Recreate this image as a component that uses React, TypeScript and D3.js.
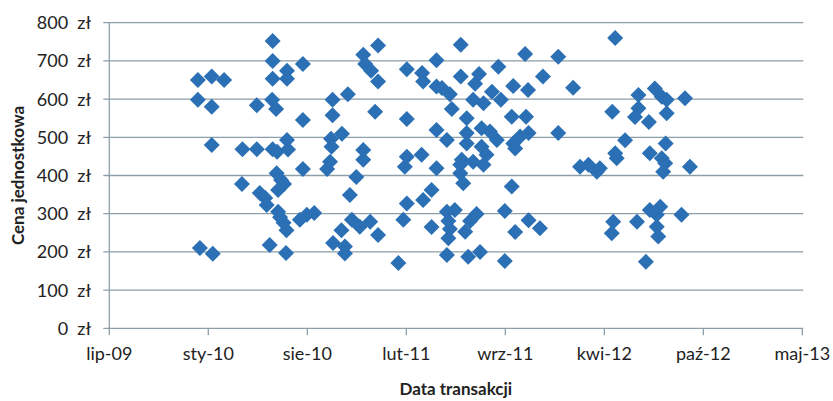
import React from "react";
import * as d3 from "d3";

// Excel date serials of transactions and unit prices (zł)
const dates: number[] = [
  40179, 40207, 40232, 40179, 40207, 40207, 40183, 40209,
  40269, 40268, 40298, 40298, 40330, 40330, 40330, 40329, 40337, 40359, 40359, 40330,
  40339, 40359, 40361, 40391, 40391, 40391, 40338, 40347, 40353, 40341, 40304, 40315,
  40318, 40341, 40345, 40352, 40358, 40385, 40399, 40414, 40324, 40357,
  40451, 40451, 40482, 40513, 40517, 40529, 40543, 40543, 40537, 40448, 40470, 40449,
  40446, 40440, 40513, 40513, 40499, 40486, 40490, 40506, 40527, 40543, 40469, 40452,
  40476, 40476,
  40601, 40632, 40634, 40661, 40661, 40672, 40688, 40601, 40661, 40682, 40601, 40597,
  40631, 40661, 40601, 40594, 40634, 40651, 40651, 40584, 40682, 40685, 40688, 40685,
  40682, 40698, 40709, 40715, 40709, 40712, 40722, 40722, 40722, 40692, 40710, 40710,
  40735, 40739, 40747, 40756, 40773, 40786, 40791, 40752, 40769, 40783, 40735, 40752,
  40762, 40756, 40816, 40820, 40830, 40847, 40813, 40842, 40816, 40846, 40840, 40876,
  40907, 40907, 40937, 40813, 40799, 40729, 40742, 40719, 40820, 40847, 40870, 40725,
  40749, 40799,
  40951, 40968, 40985, 40991, 41022, 41016, 41069, 41069, 41062, 41090, 41102, 41116,
  41126, 41126, 41163, 41042, 41022, 41025, 41092, 41116, 41124, 41119, 41123, 41173,
  41092, 41113, 41106, 41066, 41018, 41015, 41106, 41109, 41156, 41084,
];
const prices: number[] = [
  650, 659, 650, 598, 580, 480, 210, 195,
  469, 378, 584, 469, 752, 700, 653, 598, 574, 674, 653, 469,
  462, 493, 468, 692, 545, 417, 406, 388, 378, 362, 354, 341,
  323, 305, 291, 276, 257, 284, 297, 302, 218, 197,
  598, 558, 613, 716, 692, 674, 740, 646, 567, 496, 509, 475,
  436, 417, 467, 441, 396, 349, 284, 266, 279, 244, 257, 223,
  214, 196,
  678, 668, 646, 702, 633, 629, 613, 548, 519, 493, 449, 423,
  454, 419, 327, 284, 336, 362, 265, 171, 305, 281, 260, 236,
  192, 310, 406, 380, 428, 441, 484, 511, 550, 574, 742, 659,
  598, 640, 666, 589, 619, 685, 598, 524, 515, 493, 436, 475,
  454, 428, 484, 471, 502, 511, 554, 554, 634, 624, 718, 659,
  711, 511, 630, 371, 307, 281, 299, 253, 252, 283, 262, 187,
  200, 176,
  423, 428, 410, 419, 760, 567, 611, 576, 553, 540, 628, 606,
  598, 563, 602, 492, 458, 445, 458, 445, 484, 410, 432, 423,
  310, 318, 297, 279, 279, 249, 266, 240, 297, 174,
];

const xTickSerials: number[] = [40000, 40200, 40400, 40600, 40800, 41000, 41200, 41400];
const xTickLabels: string[] = ["lip-09", "sty-10", "sie-10", "lut-11", "wrz-11", "kwi-12", "paź-12", "maj-13"];
const yTicks: number[] = [0, 100, 200, 300, 400, 500, 600, 700, 800];

const EXCEL_EPOCH = Date.UTC(1899, 11, 30);
const toDate = (s: number) => new Date(EXCEL_EPOCH + s * 86400000);

const W = 833;
const H = 401;
const FONT = "Lato, 'Open Sans', sans-serif";
const TEXT = "#222222";
const GRID = "#8d9ea9";
const MARK = "#2b6fb4";

export default function App() {
  React.useEffect(() => {
    document.body.style.margin = "0";
  }, []);

  const x = d3
    .scaleUtc()
    .domain([toDate(40000), toDate(41400)])
    .range([109.3, 802.3]);
  const y = d3.scaleLinear().domain([0, 800]).range([328.3, 22.7]);

  const diamond = "M0,-8L8,0L0,8L-8,0Z";
  const [x0, x1] = x.range();

  return (
    <svg width={W} height={H} style={{ display: "block", background: "#fff" }} fontFamily={FONT}>
      {yTicks.map((t) => (
        <line
          key={"g" + t}
          x1={x0 - 6}
          x2={x1 + 1}
          y1={y(t)}
          y2={y(t)}
          stroke={GRID}
          strokeWidth={1.3}
        />
      ))}
      <line x1={x0} x2={x0} y1={y(800)} y2={y(0)} stroke={GRID} strokeWidth={1.3} />
      {xTickSerials.map((s) => (
        <line
          key={"xt" + s}
          x1={x(toDate(s))}
          x2={x(toDate(s))}
          y1={y(0)}
          y2={y(0) + 7}
          stroke={GRID}
          strokeWidth={1.3}
        />
      ))}
      {yTicks.map((t) => (
        <text
          key={"yl" + t}
          x={91}
          y={y(t) + 6.5}
          textAnchor="end"
          fontSize={18}
          fill={TEXT}
          style={{ whiteSpace: "pre" }}
        >
          {`${t}  zł`}
        </text>
      ))}
      {xTickSerials.map((s, i) => (
        <text
          key={"xl" + s}
          x={x(toDate(s))}
          y={360}
          textAnchor="middle"
          fontSize={18}
          fill={TEXT}
        >
          {xTickLabels[i]}
        </text>
      ))}
      <text
        x={(x0 + x1) / 2}
        y={395}
        textAnchor="middle"
        fontSize={17}
        fontWeight="bold"
        fill={TEXT}
      >
        Data transakcji
      </text>
      <text
        transform={`translate(24,${(y(0) + y(800)) / 2}) rotate(-90)`}
        textAnchor="middle"
        fontSize={17}
        fontWeight="bold"
        fill={TEXT}
      >
        Cena jednostkowa
      </text>
      {dates.map((s, i) => (
        <path
          key={"p" + i}
          d={diamond}
          transform={`translate(${x(toDate(s))},${y(prices[i])})`}
          fill={MARK}
        />
      ))}
    </svg>
  );
}
